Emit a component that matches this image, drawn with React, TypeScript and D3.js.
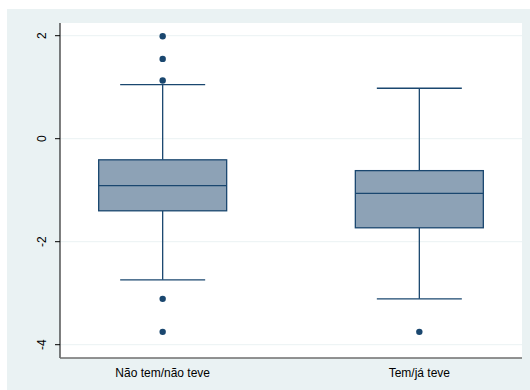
import React from "react";
import * as d3 from "d3";

// groups and box statistics
const groups = ["Não tem/não teve", "Tem/já teve"];
const whiskerHigh = [1.05, 0.98];
const q3 = [-0.41, -0.62];
const median = [-0.91, -1.06];
const q1 = [-1.4, -1.73];
const whiskerLow = [-2.74, -3.11];
const outliers = [
  [1.99, 1.55, 1.13, -3.11, -3.75],
  [-3.75],
];
const yTicks = [-4, -2, 0, 2];

const W = 530;
const H = 390;
const plot = { left: 60, right: 522, top: 23, bottom: 358 };

const navy = "#1a476f";
const boxFill = "#8da2b6";
const bg = "#eaf2f3";

export default function App() {
  const x = d3
    .scalePoint()
    .domain(groups)
    .range([plot.left, plot.right])
    .padding(0.4);

  const y = d3
    .scaleLinear()
    .domain([-4, 2])
    .range([344.7, 35.7]);

  const boxW = 128;
  const capW = 85;

  return (
    <svg
      width={W}
      height={H}
      style={{ position: "absolute", left: 0, top: 0 }}
      fontFamily="Liberation Sans, Arial, sans-serif"
    >
      <rect x={7} y={9} width={W - 7} height={H - 9} fill={bg} />
      <rect
        x={plot.left}
        y={plot.top}
        width={plot.right - plot.left}
        height={plot.bottom - plot.top}
        fill="#fff"
      />
      {/* grid */}
      {yTicks.map(t => (
        <line
          key={"g" + t}
          x1={plot.left}
          x2={plot.right}
          y1={y(t)}
          y2={y(t)}
          stroke={bg}
          strokeWidth={1}
        />
      ))}
      {groups.map((g, i) => {
        const cx = x(g)!;
        return (
          <g key={g}>
            <line x1={cx} x2={cx} y1={y(whiskerHigh[i])} y2={y(q3[i])} stroke={navy} strokeWidth={1.3} />
            <line x1={cx} x2={cx} y1={y(q1[i])} y2={y(whiskerLow[i])} stroke={navy} strokeWidth={1.3} />
            <line x1={cx - capW / 2} x2={cx + capW / 2} y1={y(whiskerHigh[i])} y2={y(whiskerHigh[i])} stroke={navy} strokeWidth={1.3} />
            <line x1={cx - capW / 2} x2={cx + capW / 2} y1={y(whiskerLow[i])} y2={y(whiskerLow[i])} stroke={navy} strokeWidth={1.3} />
            <rect
              x={cx - boxW / 2}
              y={y(q3[i])}
              width={boxW}
              height={y(q1[i]) - y(q3[i])}
              fill={boxFill}
              stroke={navy}
              strokeWidth={1.3}
            />
            <line x1={cx - boxW / 2} x2={cx + boxW / 2} y1={y(median[i])} y2={y(median[i])} stroke={navy} strokeWidth={1.3} />
            {outliers[i].map((v, j) => (
              <circle key={j} cx={cx} cy={y(v)} r={3.2} fill={navy} />
            ))}
            <text x={cx} y={377} textAnchor="middle" fontSize={12} fill="#000">
              {g}
            </text>
          </g>
        );
      })}
      {/* y axis */}
      <line x1={plot.left} x2={plot.left} y1={plot.top} y2={plot.bottom} stroke="#000" strokeWidth={1} />
      {yTicks.map(t => (
        <g key={"t" + t}>
          <line x1={plot.left - 5} x2={plot.left} y1={y(t)} y2={y(t)} stroke="#000" strokeWidth={1} />
          <text
            transform={`translate(46,${y(t)}) rotate(-90)`}
            textAnchor="middle"
            fontSize={12}
            fill="#000"
          >
            {t}
          </text>
        </g>
      ))}
      {/* x axis */}
      <line x1={plot.left} x2={plot.right} y1={plot.bottom} y2={plot.bottom} stroke="#6e6e6e" strokeWidth={1.3} />
    </svg>
  );
}
